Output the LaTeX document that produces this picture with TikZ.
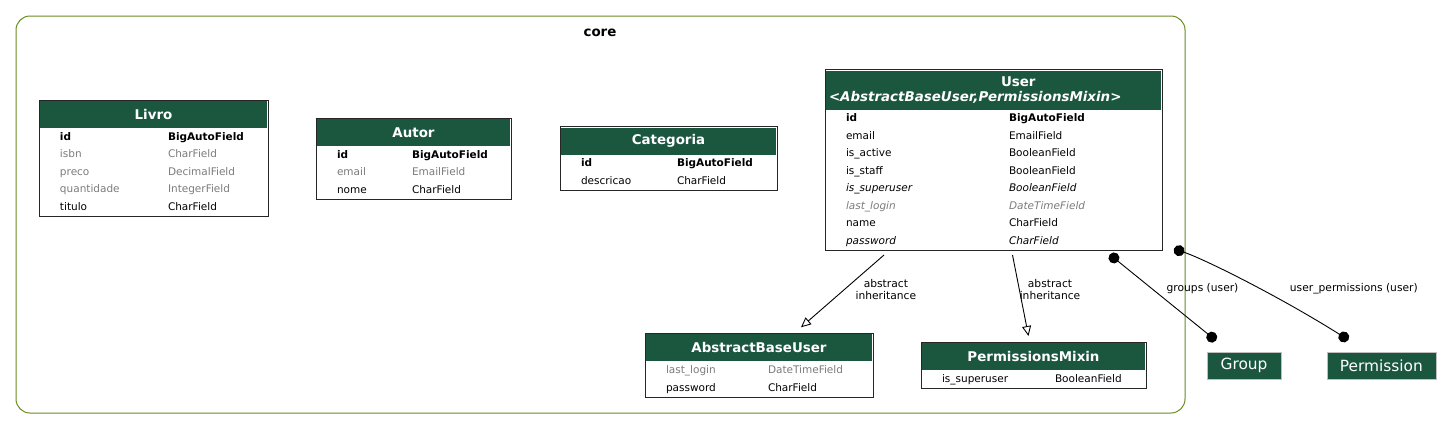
\documentclass[tikz,border=0pt]{standalone}
\usepackage{fontspec}
\setmainfont{DejaVu Sans}
\usepackage{xcolor}
\usepackage{tikz}
\usetikzlibrary{arrows.meta,positioning,fit}

\definecolor{hdrgreen}{HTML}{1B563F}
\definecolor{fieldgray}{HTML}{7B7B7B}
\definecolor{clustergreen}{HTML}{698B22}

\begin{document}
\begin{tikzpicture}[
  x=1pt, y=-1pt,
  hdr/.style={fill=hdrgreen, text=white, font=\fontsize{13.4}{15.5}\selectfont\bfseries, minimum height=27pt, inner sep=0pt, outer sep=0pt, anchor=north},
  body/.style={inner sep=0pt, outer sep=0pt, font=\fontsize{10.5}{17.5}\selectfont},
  frame/.style={draw=black!85, line width=1pt, inner sep=1pt, outer sep=6pt},
  ext/.style={fill=hdrgreen, draw=black!25, text=white, font=\fontsize{15.4}{18}\selectfont, minimum width=74pt, minimum height=27pt, inner sep=0pt},
  cluster/.style={draw=clustergreen, line width=1pt, rounded corners=14pt},
  inh/.style={-{Triangle[open, length=10pt, width=9pt]}, line width=0.9pt},
  m2m/.style={{Circle[length=11pt]}-{Circle[length=11pt]}, line width=0.9pt},
  elabel/.style={font=\fontsize{10.7}{12.5}\selectfont, align=center, inner sep=0pt, anchor=west}
]
\useasboundingbox (0,0) rectangle (1452,429);

% app cluster
\node[cluster, minimum width=1169pt, minimum height=397pt] (core) at (600.5,214.5) {};
\node[font=\fontsize{13.4}{15}\selectfont\bfseries] (coretitle) at (600,33) {core};

% models
\node[hdr, minimum width=227pt] (livroH) at (153.5,101) {Livro};
\node[body, below=0pt of livroH] (livroB) {\begin{tabular}{@{\hspace{20pt}}p{108pt}@{}p{99pt}@{}}
\textbf{id} & \textbf{BigAutoField}\\
\textcolor{fieldgray}{isbn} & \textcolor{fieldgray}{CharField}\\
\textcolor{fieldgray}{preco} & \textcolor{fieldgray}{DecimalField}\\
\textcolor{fieldgray}{quantidade} & \textcolor{fieldgray}{IntegerField}\\
titulo & CharField
\end{tabular}};
\node[frame, fit=(livroH)(livroB)] (livro) {};

\node[hdr, minimum width=193pt] (autorH) at (413.5,119) {Autor};
\node[body, below=0pt of autorH] (autorB) {\begin{tabular}{@{\hspace{20pt}}p{75pt}@{}p{98pt}@{}}
\textbf{id} & \textbf{BigAutoField}\\
\textcolor{fieldgray}{email} & \textcolor{fieldgray}{EmailField}\\
nome & CharField
\end{tabular}};
\node[frame, fit=(autorH)(autorB)] (autor) {};

\node[hdr, minimum width=215pt] (categoriaH) at (668.5,127.7) {Categoria};
\node[body, below=0pt of categoriaH] (categoriaB) {\begin{tabular}{@{\hspace{20pt}}p{96pt}@{}p{99pt}@{}}
\textbf{id} & \textbf{BigAutoField}\\
descricao & CharField
\end{tabular}};
\node[frame, fit=(categoriaH)(categoriaB)] (categoria) {};

\node[hdr, minimum width=335pt, minimum height=39pt, text width=329pt, align=left] (userH) at (993.5,70.5) {\hspace*{172pt}User\\\textit{<AbstractBaseUser,PermissionsMixin>}};
\node[body, below=0pt of userH] (userB) {\begin{tabular}{@{\hspace{20pt}}p{163pt}@{}p{152pt}@{}}
\textbf{id} & \textbf{BigAutoField}\\
email & EmailField\\
is\_active & BooleanField\\
is\_staff & BooleanField\\
\textit{is\_superuser} & \textit{BooleanField}\\
\textcolor{fieldgray}{\textit{last\_login}} & \textcolor{fieldgray}{\textit{DateTimeField}}\\
name & CharField\\
\textit{password} & \textit{CharField}
\end{tabular}};
\node[frame, fit=(userH)(userB)] (user) {};

\node[hdr, minimum width=226pt] (abstractuserH) at (759,334.3) {AbstractBaseUser};
\node[body, below=0pt of abstractuserH] (abstractuserB) {\begin{tabular}{@{\hspace{20pt}}p{102pt}@{}p{104pt}@{}}
\textcolor{fieldgray}{last\_login} & \textcolor{fieldgray}{DateTimeField}\\
password & CharField
\end{tabular}};
\node[frame, fit=(abstractuserH)(abstractuserB)] (abstractuser) {};

\node[hdr, minimum width=223pt] (mixinH) at (1033.5,343) {PermissionsMixin};
\node[body, below=0pt of mixinH] (mixinB) {\begin{tabular}{@{\hspace{20pt}}p{113pt}@{}p{90pt}@{}}
is\_superuser & BooleanField
\end{tabular}};
\node[frame, fit=(mixinH)(mixinB)] (mixin) {};

% external models
\node[ext] (group) at (1244,365.5) {Group};
\node[ext, minimum width=109pt] (permission) at (1381.3,365.5) {Permission};

% relations
\draw[inh] ([xshift=-109.5pt,yshift=1.5pt]user.south) -- node[elabel, pos=.48, xshift=11pt] {abstract\\inheritance} ([xshift=42pt]abstractuser.north);
\draw[inh] ([xshift=19pt,yshift=1.5pt]user.south) -- node[elabel, pos=.425, xshift=0pt] {abstract\\inheritance} ([xshift=-5pt]mixin.north);
\draw[m2m] ([xshift=116.2pt,yshift=2pt]user.south) -- node[elabel, pos=.4, xshift=14pt] {groups (user)} ([xshift=-28pt,yshift=11.2pt]group.north);
\draw[m2m] ([xshift=5.9pt,yshift=7.6pt]user.south east) .. controls +(30,10) and +(-70,-44) .. node[elabel, pos=.57, xshift=30pt] {user\_permissions (user)} ([xshift=-32.9pt,yshift=11.9pt]permission.north);
\end{tikzpicture}
\end{document}
